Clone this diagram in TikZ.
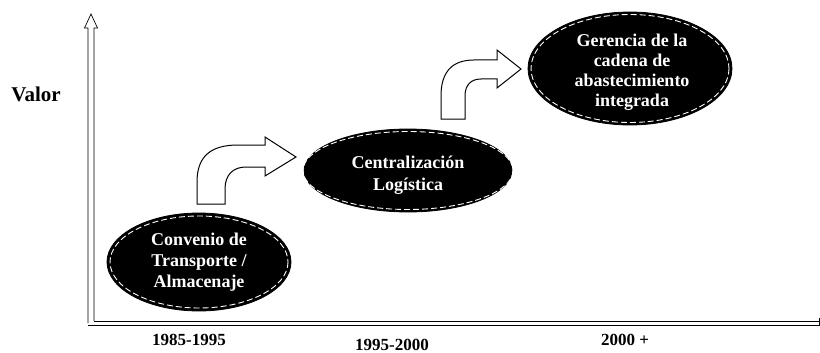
\documentclass[tikz,border=0pt]{standalone}
\usepackage{fontspec}
\setmainfont{Liberation Serif}
\usetikzlibrary{shapes.geometric}
\begin{document}
\begin{tikzpicture}[x=1pt,y=-1pt,
  stage/.style={ellipse, fill=black, draw=black, line width=0.8pt, inner sep=0pt},
  stagetext/.style={text=white, font=\bfseries\fontsize{18}{21}\selectfont, align=center, inner sep=0pt},
  stagedash/.style={draw=white, line width=0.9pt, dash pattern=on 6pt off 3pt},
  bentarrow/.style={draw=black, fill=white, line width=1pt, line join=miter},
  axisline/.style={draw=black, line width=0.7pt},
  yearlabel/.style={font=\bfseries\fontsize{17}{18}\selectfont, inner sep=0pt},
]
\useasboundingbox (0,0) rectangle (820,353);

% axes drawn as hollow double lines
\draw[axisline, fill=white] (88,323) -- (88,28) -- (84.5,28) -- (91,14) -- (97.5,28) -- (94,28) -- (94,321);
\draw[axisline] (88,325) -- (819,325) -- (819,318);
\draw[axisline] (94,321) -- (819,321);

% block arrows between stages
\draw[bentarrow] (197,204) -- (197,182) .. controls (197,157) and (210,145) .. (238,145)
  -- (265,145) -- (265,137) -- (296,157) -- (265,176) -- (265,167) -- (246,167)
  .. controls (233,167) and (225,175) .. (225,189) -- (225,204) -- cycle;
\draw[bentarrow] (441,119) -- (441,96) .. controls (441,72) and (452,60) .. (474,60)
  -- (497,60) -- (497,50) -- (521,69) -- (497,88) -- (497,79) -- (481,79)
  .. controls (471,79) and (465,85) .. (465,96) -- (465,119) -- cycle;

% stages
\node[stage, minimum width=184pt, minimum height=98pt] (s1) at (199,262) {};
\node[stage, minimum width=208pt, minimum height=83pt] (s2) at (408,170.5) {};
\node[stage, minimum width=204pt, minimum height=113pt] (s3) at (630,68.5) {};
\foreach \n/\rx/\ry in {s1/89/46, s2/105/39, s3/99/54}
  \draw[stagedash] (\n.center) ellipse [x radius=\rx, y radius=\ry];

\node[stagetext] (t1) at (199,262) {Convenio de\\Transporte /\\Almacenaje};
\node[stagetext, font=\bfseries\fontsize{18}{22.5}\selectfont] (t2) at (408,175) {Centralización\\Logística};
\node[stagetext, font=\bfseries\fontsize{18}{20}\selectfont] (t3) at (632,72) {Gerencia de la\\cadena de\\abastecimiento\\integrada};

% labels
\node[font=\bfseries\fontsize{21}{22}\selectfont, inner sep=0pt] (valor) at (36,94) {Valor};
\node[yearlabel] (y1) at (189,340) {1985-1995};
\node[yearlabel] (y2) at (392,345) {1995-2000};
\node[yearlabel] (y3) at (625,340) {2000 +};
\end{tikzpicture}
\end{document}
